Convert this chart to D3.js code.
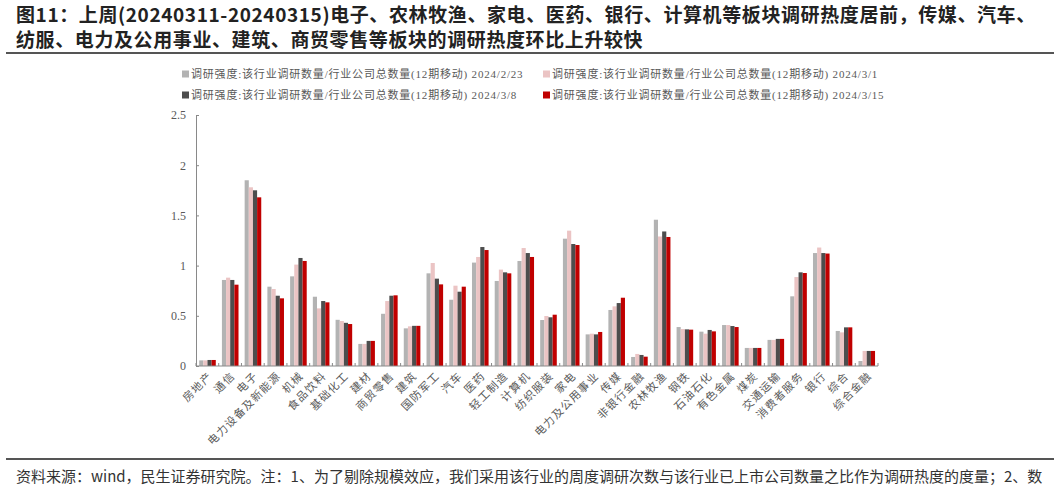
<!DOCTYPE html>
<meta charset="utf-8">
<style>
  body { margin: 0; background: #fff; }
  .cat text { font-family: "Noto Sans CJK SC", sans-serif; font-size: 11px; letter-spacing: 1.2px; fill: #595959; }
  .yax text { font-family: "Liberation Serif", serif; font-size: 12px; fill: #595959; }
</style>
<svg width="1060" height="498"></svg>
<script src="https://cdn.jsdelivr.net/npm/d3@7/dist/d3.min.js"></script>
<script>

var categories = ["房地产","通信","电子","电力设备及新能源","机械","食品饮料","基础化工","建材","商贸零售","建筑",
  "国防军工","汽车","医药","轻工制造","计算机","纺织服装","家电","电力及公用事业","传媒","非银行金融",
  "农林牧渔","钢铁","石油石化","有色金属","煤炭","交通运输","消费者服务","银行","综合","综合金融"];

var seriesNames = ["2024/2/23","2024/3/1","2024/3/8","2024/3/15"];

var v0223 = [0.056,0.857,1.85,0.79,0.893,0.69,0.46,0.22,0.52,0.375,
  0.923,0.66,1.03,0.847,1.046,0.458,1.268,0.315,0.558,0.09,
  1.457,0.388,0.342,0.408,0.18,0.26,0.694,1.125,0.349,0.05];
var v0301 = [0.056,0.88,1.78,0.767,1.01,0.574,0.448,0.22,0.647,0.395,
  1.026,0.80,1.086,0.96,1.175,0.498,1.348,0.322,0.594,0.12,
  1.29,0.368,0.322,0.408,0.18,0.26,0.886,1.18,0.335,0.15];
var v0308 = [0.06,0.857,1.75,0.70,1.076,0.647,0.43,0.25,0.70,0.40,
  0.87,0.74,1.185,0.933,1.125,0.485,1.215,0.315,0.627,0.11,
  1.34,0.365,0.359,0.398,0.18,0.27,0.933,1.125,0.385,0.15];
var v0315 = [0.06,0.81,1.68,0.674,1.046,0.634,0.418,0.25,0.704,0.40,
  0.813,0.79,1.155,0.923,1.086,0.511,1.205,0.339,0.68,0.093,
  1.285,0.362,0.345,0.388,0.18,0.27,0.926,1.12,0.385,0.15];

var yTicks = [0, 0.5, 1, 1.5, 2, 2.5];
var colors = ["#b3b3b3", "#ebc4c4", "#4d4d4d", "#c00000"];
var legendPrefix = "调研强度:该行业调研数量/行业公司总数量(12期移动) ";

var allValues = [v0223, v0301, v0308, v0315];

var svg = d3.select("svg");
var margin = {top: 115, left: 196, right: 182, bottom: 132};
var width = 1060 - margin.left - margin.right,
    height = 498 - margin.top - margin.bottom;

// title
var title = svg.append("g")
    .style("font-family", "'Noto Sans CJK SC', sans-serif")
    .style("font-weight", "bold")
    .style("font-size", "19px")
    .style("letter-spacing", "0.6px")
    .attr("fill", "#222");
title.append("text").attr("x", 16).attr("y", 22)
    .text("图11：上周(20240311-20240315)电子、农林牧渔、家电、医药、银行、计算机等板块调研热度居前，传媒、汽车、");
title.append("text").attr("x", 16).attr("y", 47)
    .text("纺服、电力及公用事业、建筑、商贸零售等板块的调研热度环比上升较快");
svg.append("line").attr("x1", 6).attr("x2", 1054).attr("y1", 53).attr("y2", 53)
    .attr("stroke", "#555").attr("stroke-width", 2);

// footer
svg.append("line").attr("x1", 6).attr("x2", 1054).attr("y1", 459).attr("y2", 459)
    .attr("stroke", "#555").attr("stroke-width", 2);
svg.append("text").attr("x", 16).attr("y", 482)
    .style("font-family", "'Noto Sans CJK SC', sans-serif")
    .style("font-size", "15px")
    .attr("fill", "#333")
    .text("资料来源：wind，民生证券研究院。注：1、为了剔除规模效应，我们采用该行业的周度调研次数与该行业已上市公司数量之比作为调研热度的度量；2、数");

// legend
var legend = svg.append("g");
seriesNames.forEach(function(name, i) {
  var lx = i % 2 === 0 ? 182 : 543,
      ly = i < 2 ? 74 : 95;
  legend.append("rect").attr("x", lx).attr("y", ly - 3.5).attr("width", 7).attr("height", 7)
      .attr("fill", colors[i]);
  legend.append("text").attr("x", lx + 9).attr("y", ly + 4)
      .style("font-family", "'Liberation Serif', 'Noto Sans CJK SC', serif")
      .style("font-size", "11px")
      .style("letter-spacing", "0.8px")
      .attr("fill", "#595959")
      .text(legendPrefix + name);
});

var g = svg.append("g").attr("transform", "translate(" + margin.left + "," + margin.top + ")");

var x0 = d3.scaleBand().domain(categories).range([0, width]);
var x1 = d3.scaleBand().domain(d3.range(4))
    .range([x0.bandwidth() * 0.14, x0.bandwidth() * 0.87]);
var y = d3.scaleLinear().domain([0, 2.5]).range([height, 0]);

// bars
var groups = g.selectAll(".grp").data(categories).enter().append("g")
    .attr("transform", function(d) { return "translate(" + x0(d) + ",0)"; });
groups.selectAll("rect")
    .data(function(d, ci) { return allValues.map(function(s, si) { return {s: si, v: s[ci]}; }); })
  .enter().append("rect")
    .attr("x", function(d) { return x1(d.s); })
    .attr("width", x1.bandwidth())
    .attr("y", function(d) { return y(d.v); })
    .attr("height", function(d) { return height - y(d.v); })
    .attr("fill", function(d) { return colors[d.s]; });

// y axis
var yAxis = g.append("g").attr("class", "yax")
    .call(d3.axisLeft(y).tickValues(yTicks).tickSize(-3).tickPadding(10).tickFormat(d3.format("")));
yAxis.select(".domain").attr("stroke", "#898989");
yAxis.selectAll(".tick line").attr("stroke", "#898989");

// x axis
var xAxis = g.append("g").attr("class", "cat")
    .attr("transform", "translate(0," + height + ")");
xAxis.append("line").attr("x1", 0).attr("x2", width).attr("stroke", "#898989");
xAxis.selectAll(".tk").data(d3.range(categories.length + 1)).enter().append("line")
    .attr("x1", function(i) { return i * x0.step(); })
    .attr("x2", function(i) { return i * x0.step(); })
    .attr("y1", 0).attr("y2", -3).attr("stroke", "#898989");
xAxis.selectAll("text").data(categories).enter().append("text")
    .attr("text-anchor", "end")
    .attr("transform", function(d) {
      return "translate(" + (x0(d) + x0.bandwidth() / 2 + 3) + ",8) rotate(-45)";
    })
    .attr("dy", "0.35em")
    .text(function(d) { return d; });

</script>
